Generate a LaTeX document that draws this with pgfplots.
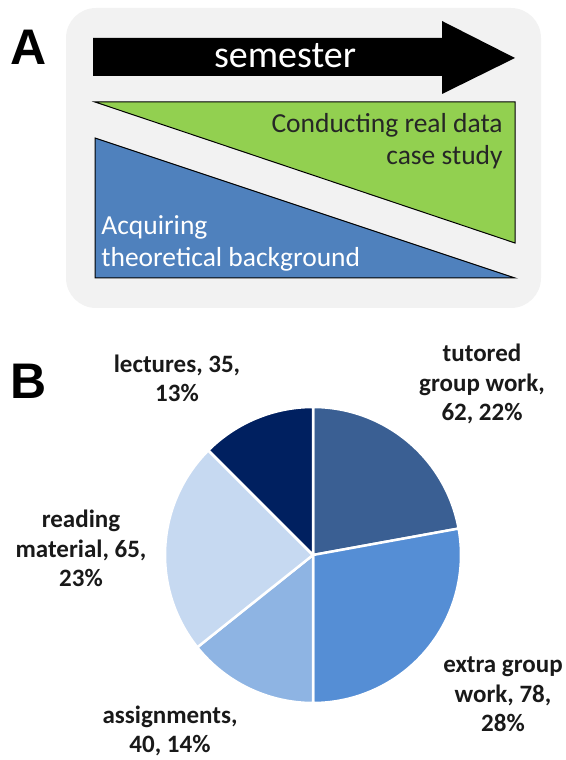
\documentclass[border=0pt]{standalone}
\usepackage{pgfplots}
\pgfplotsset{compat=1.18}
\usepackage{pgfplotstable}
\usepackage{fontspec}
\setmainfont{Carlito}
\newfontfamily\panelfont{Liberation Sans}
\definecolor{bgbox}{HTML}{F2F2F2}
\definecolor{greenA}{HTML}{92D050}
\definecolor{blueA}{HTML}{4F81BD}
\definecolor{slice0}{HTML}{3A5F93}
\definecolor{slice1}{HTML}{558ED5}
\definecolor{slice2}{HTML}{8EB4E3}
\definecolor{slice3}{HTML}{C6D9F1}
\definecolor{slice4}{HTML}{002060}

\pgfplotstableread{
activity value
tutored 62
extra 78
assignments 40
reading 65
lectures 35
}\piedata

\begin{document}
\begin{tikzpicture}
\begin{axis}[x=0.5pt, y=0.5pt, xmin=0, xmax=566, ymin=0, ymax=760,
  hide axis, clip=false, scale only axis]
\path (axis cs:0,0) rectangle (axis cs:566,760);
% panel A background
\fill[bgbox, rounded corners=15pt] (axis cs:66,452) rectangle (axis cs:541,752);
% arrow
\addplot[fill=black, draw=none] coordinates {(93,722) (442,722) (442,739) (515,702) (442,666) (442,684) (93,684)} -- cycle;
\node[white, font=\fontsize{19}{23}\selectfont] at (axis cs:285,704) {semester};
% triangles
\addplot[fill=greenA, draw=black, line width=0.5pt] coordinates {(95,658) (515,658) (515,517)} -- cycle;
\addplot[fill=blueA, draw=black, line width=0.5pt] coordinates {(95,622) (95,482) (515,482)} -- cycle;
\node[anchor=base east, text=black!85, font=\fontsize{13.75}{16}\selectfont, inner sep=0pt] at (axis cs:503,627) {Conducting real data};
\node[anchor=base east, text=black!85, font=\fontsize{13.75}{16}\selectfont, inner sep=0pt] at (axis cs:503,595) {case study};
\node[anchor=base west, white, font=\fontsize{13.75}{16}\selectfont, inner sep=0pt] at (axis cs:101,525) {Acquiring};
\node[anchor=base west, white, font=\fontsize{13.75}{16}\selectfont, inner sep=0pt] at (axis cs:101,493) {theoretical background};
% panel letters
\node[anchor=base, font=\panelfont\bfseries\fontsize{25}{30}\selectfont, inner sep=0pt] at (axis cs:29,695) {A};
\node[anchor=base, font=\panelfont\bfseries\fontsize{25}{30}\selectfont, inner sep=0pt] at (axis cs:29,361) {B};
% pie
\def\total{0}
\pgfplotsforeachungrouped \i in {0,...,4} {%
  \pgfplotstablegetelem{\i}{value}\of\piedata
  \pgfmathsetmacro\total{\total+\pgfplotsretval}%
}
\def\cum{0}
\pgfplotsforeachungrouped \i in {0,...,4} {%
  \pgfplotstablegetelem{\i}{value}\of\piedata
  \let\slval\pgfplotsretval
  \pgfmathsetmacro\slstart{90-360*(\cum/\total)}%
  \pgfmathsetmacro\slend{90-360*((\cum+\slval)/\total)}%
  \edef\doslice{\noexpand\fill[fill=slice\i, draw=white, line width=1.25pt, line join=round] (axis cs:313,205) -- ++(\slstart:74pt) arc[start angle=\slstart, end angle=\slend, radius=74pt] -- cycle;}%
  \doslice
  \pgfmathsetmacro\cum{\cum+\slval}%
}
% labels
\tikzset{lbl/.style={anchor=base, inner sep=0pt, font=\bfseries\fontsize{12.5}{15}\selectfont, text=black!90}}
\node[lbl] at (axis cs:177,387) {lectures, 35,};
\node[lbl] at (axis cs:177,358) {13\%};
\node[lbl] at (axis cs:482,398) {tutored};
\node[lbl] at (axis cs:482,368) {group work,};
\node[lbl] at (axis cs:482,339) {62, 22\%};
\node[lbl] at (axis cs:81,232) {reading};
\node[lbl] at (axis cs:81,202) {material, 65,};
\node[lbl] at (axis cs:81,173) {23\%};
\node[lbl] at (axis cs:503,87) {extra group};
\node[lbl] at (axis cs:503,57) {work, 78,};
\node[lbl] at (axis cs:503,28) {28\%};
\node[lbl] at (axis cs:170,36) {assignments,};
\node[lbl] at (axis cs:170,7) {40, 14\%};
\end{axis}
\end{tikzpicture}
\end{document}
